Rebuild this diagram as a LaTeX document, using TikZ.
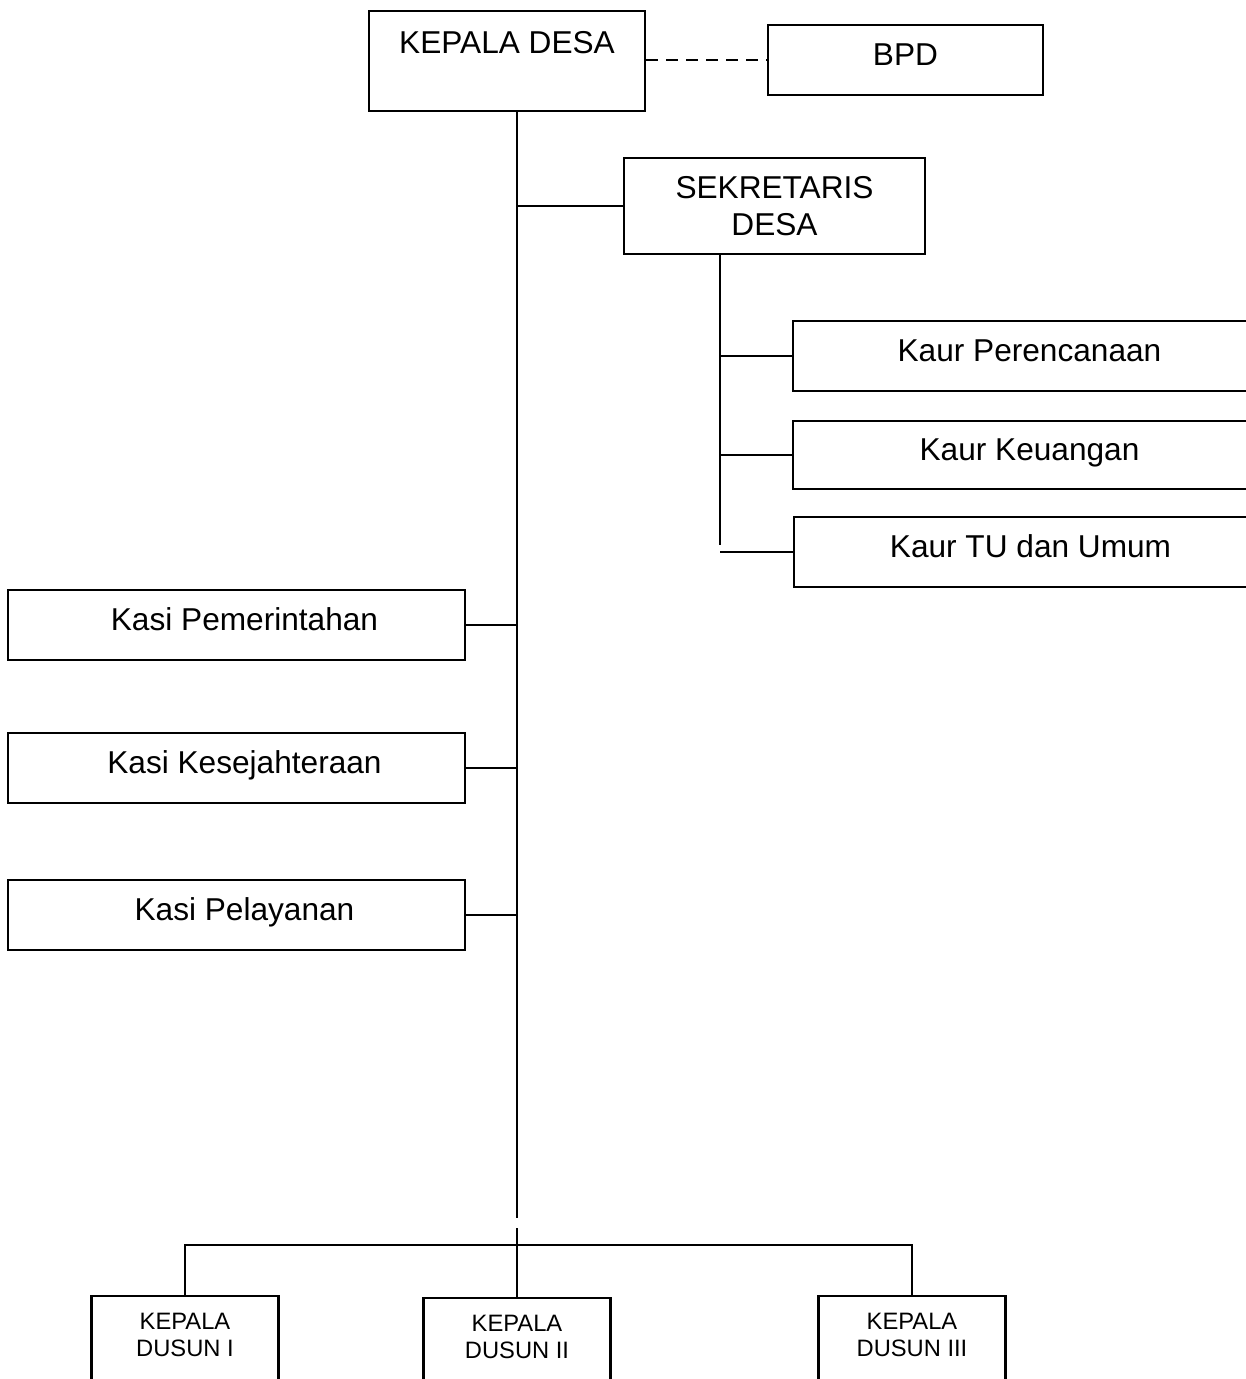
\documentclass[tikz,border=0pt]{standalone}
\usepackage{fontspec}
\setmainfont{Liberation Sans}
\usepackage{tikz}
\usetikzlibrary{positioning,calc}

\begin{document}
\begin{tikzpicture}[x=0.02cm,y=-0.02cm,line width=1.2pt,
  box/.style={draw,rectangle,inner sep=0pt,align=center,font=\fontsize{18}{21}\selectfont},
  single/.style={box,text height=14pt,text depth=7.8pt},
  dusun/.style={box,minimum width=3.74cm,text height=1.21cm,text depth=2cm,anchor=north,font=\fontsize{13.5}{15.3}\selectfont}]
  \useasboundingbox (0,0) rectangle (1246,1379);
  % pimpinan
  \node[box,anchor=north west,minimum width=5.52cm,text height=0.84cm,text depth=1.16cm] (KD) at (368,10) {KEPALA DESA};
  \node[single,minimum width=5.5cm,minimum height=1.4cm] (BPD) at (905.5,60) {BPD};
  \node[box,minimum width=6.02cm,minimum height=1.92cm] (SD) at (774.5,206) {SEKRETARIS\\DESA};
  % kaur
  \node[single,anchor=west,minimum width=9.46cm,minimum height=1.4cm] (KP) at (792,356) {Kaur Perencanaan};
  \node[single,anchor=west,minimum width=9.46cm,minimum height=1.36cm] (KK) at (792,455) {Kaur Keuangan};
  \node[single,anchor=west,minimum width=9.46cm,minimum height=1.4cm] (KT) at (793,552) {Kaur TU dan Umum};
  % kasi
  \node[single,minimum width=9.14cm,minimum height=1.4cm] (SP) at (236.5,625) {\hspace*{0.32cm}Kasi Pemerintahan};
  \node[single,minimum width=9.14cm,minimum height=1.4cm] (SK) at (236.5,768) {\hspace*{0.32cm}Kasi Kesejahteraan};
  \node[single,minimum width=9.14cm,minimum height=1.4cm] (SL) at (236.5,915) {\hspace*{0.32cm}Kasi Pelayanan};
  % dusun
  \node[dusun] (D1) at (185,1295) {KEPALA\\DUSUN I};
  \node[dusun] (D2) at (517,1297) {KEPALA\\DUSUN II};
  \node[dusun] (D3) at (912,1295) {KEPALA\\DUSUN III};

  \coordinate (gaptop) at (517,1218); \coordinate (gapbot) at (517,1228);
  \coordinate (sbus) at (720,254); \coordinate (send) at (720,545);
  \coordinate (bar) at (0,1245);

  \draw[dashed,dash pattern=on 0.24cm off 0.16cm] (KD.east |- BPD.west) -- (BPD.west);
  \draw (KD.south -| D2.north) -- (gaptop);
  \draw (gapbot) -- (D2.north);
  \draw (SD.west) -- (SD.west -| D2.north);
  \draw (SP.east) -- (SP.east -| D2.north);
  \draw (SK.east) -- (SK.east -| D2.north);
  \draw (SL.east) -- (SL.east -| D2.north);
  \draw (sbus) -- (send);
  \draw (KP.west) -- (KP.west -| sbus);
  \draw (KK.west) -- (KK.west -| sbus);
  \draw (KT.west) -- (KT.west -| sbus);
  \draw (D1.north) |- (bar -| D3.north) -- (D3.north);
\end{tikzpicture}
\end{document}
